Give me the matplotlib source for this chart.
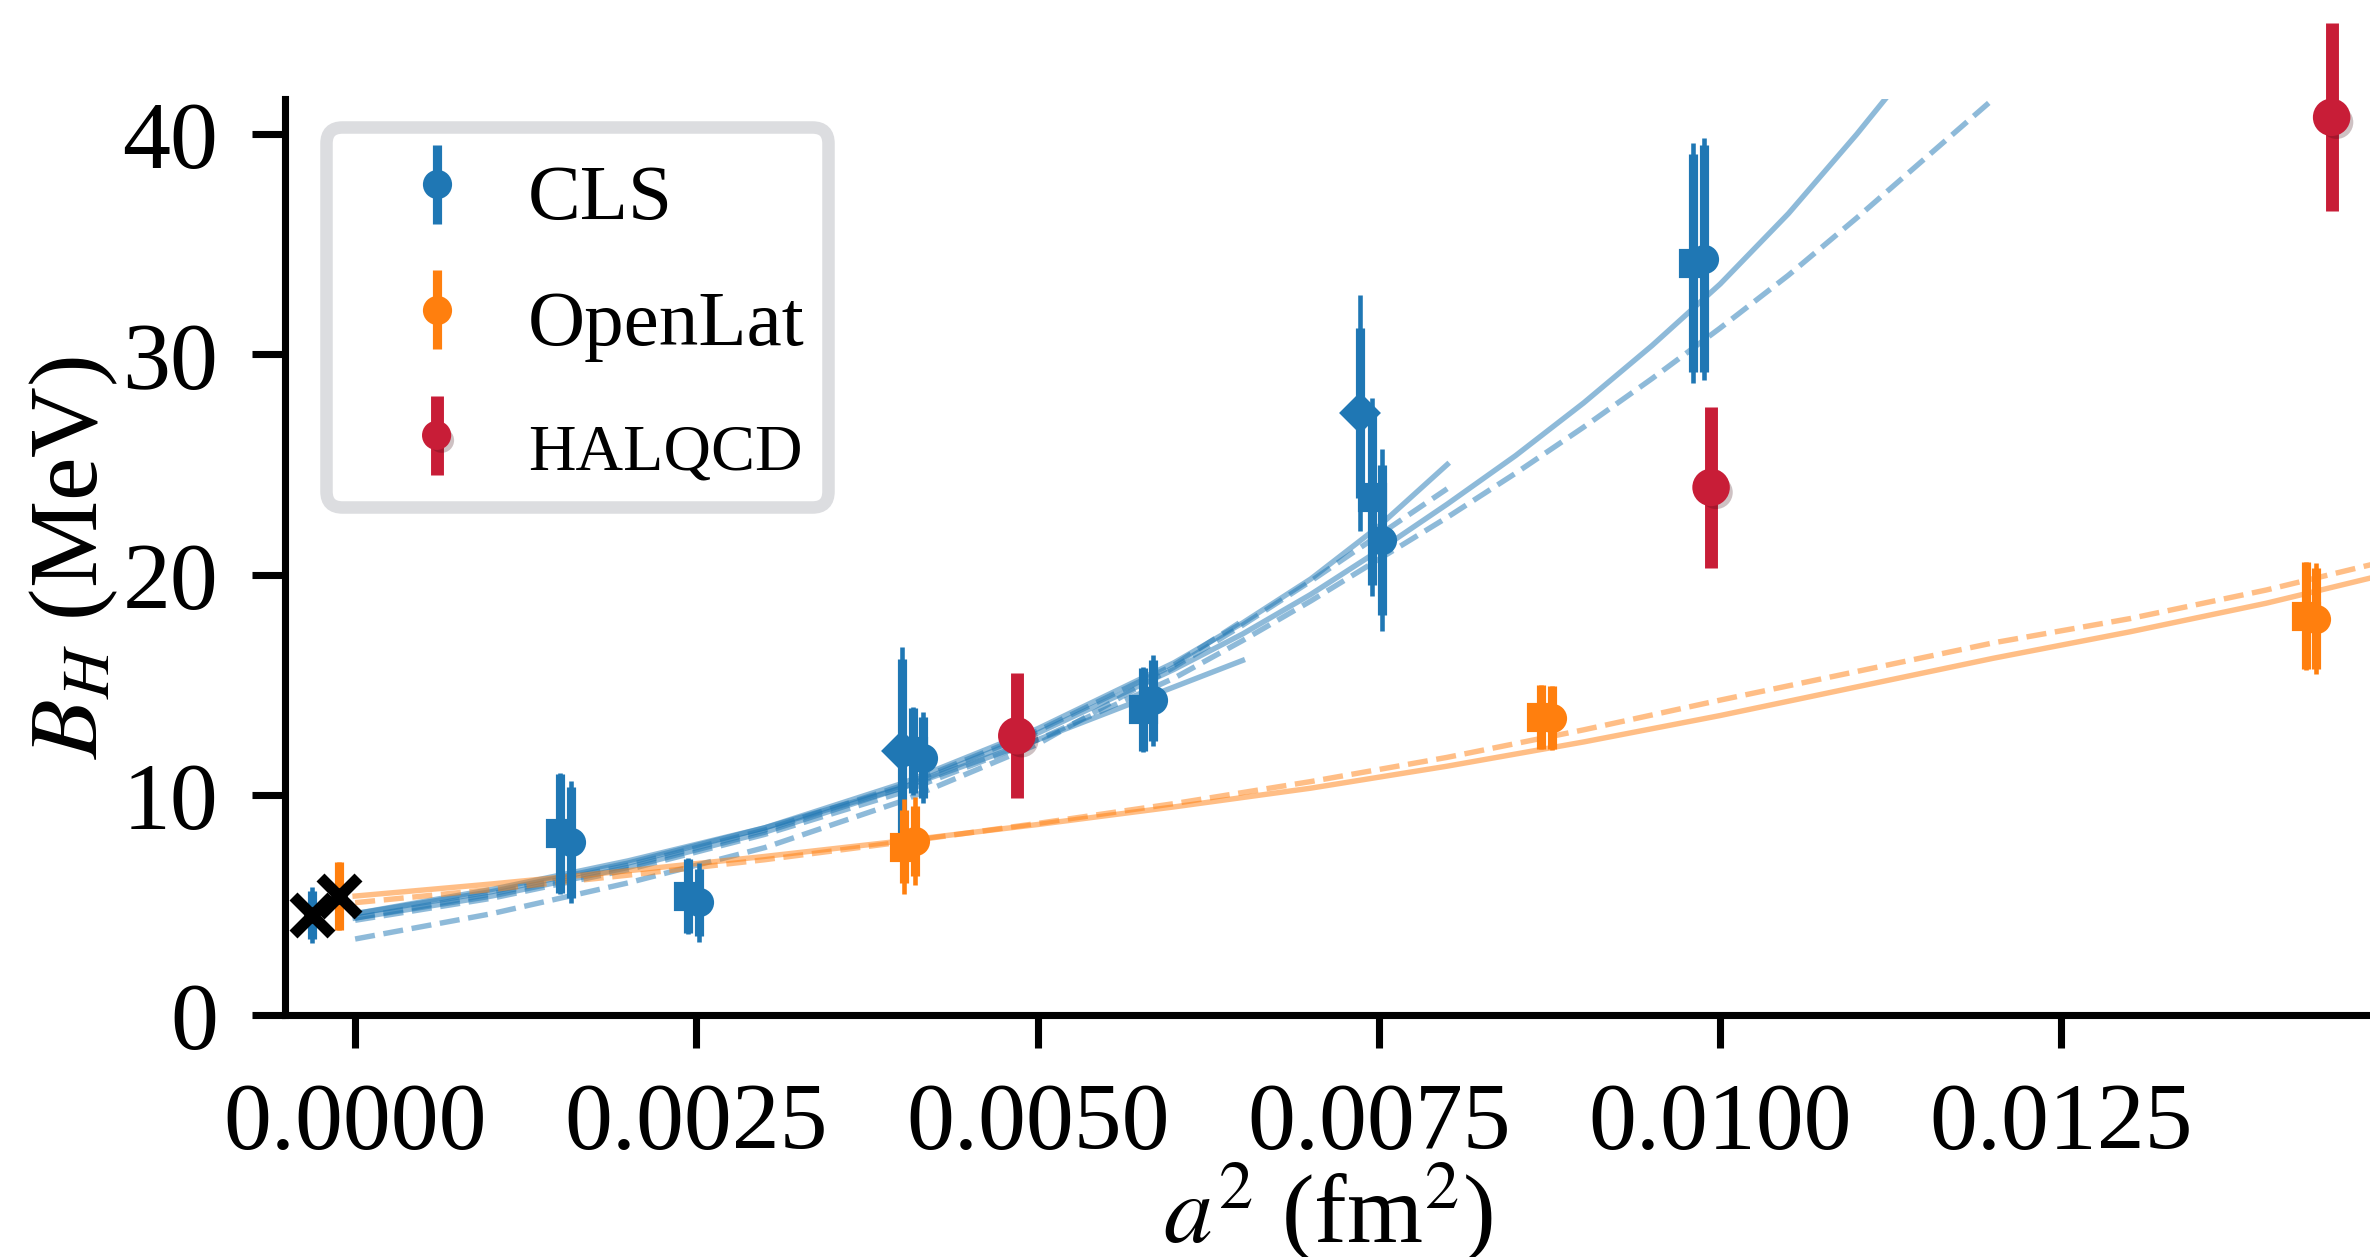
# B_H vs a^2 : CLS / OpenLat / HALQCD

import numpy as np
import matplotlib
matplotlib.use("Agg")
import matplotlib.pyplot as plt
import matplotlib.patheffects as pe
from matplotlib.ticker import FormatStrFormatter

plt.rcParams["font.family"] = ["Liberation Serif", "DejaVu Serif"]
plt.rcParams["mathtext.fontset"] = "stix"

BLUE = "#1f77b4"
ORANGE = "#ff7f0e"
RED = "#c81d37"

# CLS ensembles
cls_x = [0.001502, 0.00158, 0.002441, 0.002522, 0.004007, 0.004085, 0.004163,
         0.00577, 0.005848, 0.007362, 0.007447, 0.00752, 0.009803, 0.009884]
cls_y = [8.25, 7.85, 5.4, 5.11, 11.99, 12.0, 11.69, 13.88, 14.29, 27.33, 23.51, 21.57, 34.15, 34.35]
cls_stat = [2.7, 2.52, 1.7, 1.51, 4.16, 1.94, 1.83, 1.89, 1.85, 3.85, 4.0, 3.39, 4.97, 5.14]
cls_tot = [2.76, 2.77, 1.72, 1.81, 4.72, 2.0, 2.08, 1.92, 2.06, 5.37, 4.5, 4.14, 5.44, 5.49]
cls_mk = ["s", "o", "s", "o", "D", "s", "o", "s", "o", "D", "s", "o", "s", "o"]

# OpenLat ensembles
ol_x = [0.004021, 0.004102, 0.008685, 0.008766, 0.014289, 0.014365]
ol_y = [7.65, 7.9, 13.53, 13.5, 18.14, 18.0]
ol_stat = [1.64, 1.6, 1.44, 1.44, 2.43, 2.28]
ol_tot = [2.15, 2.0, 1.46, 1.46, 2.45, 2.53]
ol_mk = ["s", "o", "s", "o", "s", "o"]

# HALQCD
hal_x = [0.004847, 0.009933, 0.014479]
hal_y = [12.68, 23.96, 40.77]
hal_err = [2.83, 3.67, 4.26]

# continuum values (shifted left for visibility)
cont_x = [-0.000315, -0.000117]
cont_y = [4.54, 5.4]
cont_stat = [1.1, 1.53]
cont_tot = [1.25, 1.53]

# fit curves
fit_x_long1 = [0, 0.001, 0.002, 0.003, 0.004, 0.005, 0.006, 0.0065, 0.007, 0.0075,
               0.008, 0.0085, 0.009, 0.0095, 0.010, 0.0105, 0.011, 0.0113]
fit_y_long1 = [4.4, 5.4, 6.7, 8.3, 10.3, 12.8, 15.7, 17.3, 19.1, 21.1,
               23.2, 25.4, 27.8, 30.4, 33.2, 36.4, 40.0, 42.3]
fit_x_long2 = [0, 0.001, 0.002, 0.003, 0.004, 0.005, 0.006, 0.0065, 0.007, 0.0075,
               0.008, 0.0085, 0.009, 0.0095, 0.010, 0.0105, 0.011, 0.0115, 0.012]
fit_y_long2 = [4.3, 5.3, 6.6, 8.2, 10.1, 12.5, 15.3, 17.0, 18.8, 20.7,
               22.6, 24.6, 26.7, 28.9, 31.2, 33.6, 36.2, 38.9, 41.6]
fit_x_mid = [0, 0.001, 0.002, 0.003, 0.004, 0.005, 0.006, 0.0065, 0.007, 0.0075, 0.008]
fit_y_mid1 = [4.6, 5.6, 6.9, 8.5, 10.5, 13.0, 16.0, 17.8, 19.8, 22.2, 25.0]
fit_y_mid2 = [3.45, 4.6, 6.0, 7.6, 9.7, 12.3, 15.8, 17.7, 19.7, 21.8, 23.9]
fit_x_short = [0, 0.001, 0.002, 0.003, 0.004, 0.005, 0.006, 0.0065]
fit_y_short1 = [4.6, 5.7, 7.0, 8.5, 10.3, 12.5, 14.9, 16.1]
fit_y_short2 = [4.4, 5.5, 6.8, 8.4, 10.4, 12.9, 15.9, 17.9]

ol_fit_x = [0, 0.001, 0.002, 0.003, 0.004, 0.005, 0.006, 0.007, 0.008, 0.009,
            0.010, 0.011, 0.012, 0.013, 0.014, 0.0148]
ol_fit_y1 = [5.4, 5.95, 6.55, 7.2, 7.9, 8.65, 9.45, 10.3, 11.3, 12.4,
             13.6, 14.9, 16.2, 17.4, 18.7, 19.9]
ol_fit_y2 = [5.1, 5.7, 6.35, 7.05, 7.85, 8.7, 9.6, 10.6, 11.7, 12.95,
             14.3, 15.6, 16.9, 18.0, 19.3, 20.5]

fig = plt.figure(figsize=(7.9, 4.1933), dpi=300)
ax = fig.add_axes([0.1203, 0.1924, 0.8797, 0.7281])

lw = 1.3
ax.plot(fit_x_long1, fit_y_long1, "-", color=BLUE, alpha=0.5, lw=lw)
ax.plot(fit_x_long2, fit_y_long2, "--", color=BLUE, alpha=0.5, lw=lw)
ax.plot(fit_x_mid, fit_y_mid1, "-", color=BLUE, alpha=0.5, lw=lw)
ax.plot(fit_x_mid, fit_y_mid2, "--", color=BLUE, alpha=0.5, lw=lw)
ax.plot(fit_x_short, fit_y_short1, "-", color=BLUE, alpha=0.5, lw=lw)
ax.plot(fit_x_short, fit_y_short2, "--", color=BLUE, alpha=0.5, lw=lw)
ax.plot(ol_fit_x, ol_fit_y1, "-", color=ORANGE, alpha=0.5, lw=lw)
ax.plot(ol_fit_x, ol_fit_y2, "--", color=ORANGE, alpha=0.5, lw=lw)


def draw_points(xs, ys, stat, tot, marks, c):
    for x, y, s, t, m in zip(xs, ys, stat, tot, marks):
        ax.errorbar(x, y, yerr=t, fmt="none", ecolor=c, elinewidth=1.1, zorder=3)
        ax.errorbar(x, y, yerr=s, fmt=m, color=c, ms=6, elinewidth=2.2, zorder=3)


draw_points(cls_x, cls_y, cls_stat, cls_tot, cls_mk, BLUE)
draw_points(ol_x, ol_y, ol_stat, ol_tot, ol_mk, ORANGE)

# continuum
for x, y, s, t, c in zip(cont_x, cont_y, cont_stat, cont_tot, [BLUE, ORANGE]):
    ax.errorbar(x, y, yerr=t, fmt="none", ecolor=c, elinewidth=1.1, zorder=3)
    ax.errorbar(x, y, yerr=s, fmt="none", ecolor=c, elinewidth=2.2, zorder=3)
ax.plot(cont_x, cont_y, "x", color="k", ms=9, mew=2.7, zorder=5)

shadow = [pe.SimplePatchShadow(offset=(1.2, -1.2), alpha=0.25), pe.Normal()]
for x, y, e in zip(hal_x, hal_y, hal_err):
    eb = ax.errorbar(x, y, yerr=e, fmt="o", color=RED, ms=8, elinewidth=3.1,
                     zorder=4, clip_on=False)
    eb.lines[0].set_path_effects(shadow)
    for b in eb.lines[2]:
        b.set_clip_on(False)

# legend proxies
h1 = ax.errorbar([np.nan], [np.nan], yerr=[1], fmt="o", color=BLUE, ms=6, elinewidth=2.2, label="CLS")
h2 = ax.errorbar([np.nan], [np.nan], yerr=[1], fmt="o", color=ORANGE, ms=6, elinewidth=2.2, label="OpenLat")
h3 = ax.errorbar([np.nan], [np.nan], yerr=[1], fmt="o", color=RED, ms=6, elinewidth=3.1, label="HALQCD")
h3.lines[0].set_path_effects(shadow)

leg = ax.legend(handles=[h1, h2, h3], loc="upper left", bbox_to_anchor=(0.0195, 0.9694),
                borderaxespad=0, fontsize=19, handlelength=2.2, handletextpad=0.05,
                labelspacing=0.52, handleheight=1.2, borderpad=0.3,
                fancybox=True, framealpha=1, edgecolor="#dcdde0")
leg.get_frame().set_linewidth(3)
leg.get_texts()[2].set_fontsize(15.8)

ax.set_xlim(-0.000513, 0.01476)
ax.set_ylim(0, 41.6)
ax.set_xticks([0, 0.0025, 0.005, 0.0075, 0.01, 0.0125])
ax.set_yticks([0, 10, 20, 30, 40])
ax.xaxis.set_major_formatter(FormatStrFormatter("%.4f"))

for s in ["top", "right"]:
    ax.spines[s].set_visible(False)
for s in ["left", "bottom"]:
    ax.spines[s].set_linewidth(1.7)
ax.tick_params(direction="out", length=8, width=1.7, labelsize=23, pad=8)

ax.set_xlabel(r"$a^2$ (fm$^2$)", fontsize=23.5)
ax.set_ylabel(r"$B_H$ (MeV)", fontsize=23.5)
ax.xaxis.set_label_coords(0.5, -0.158)
ax.yaxis.set_label_coords(-0.079, 0.5)

fig.savefig("out.png", dpi=300)
